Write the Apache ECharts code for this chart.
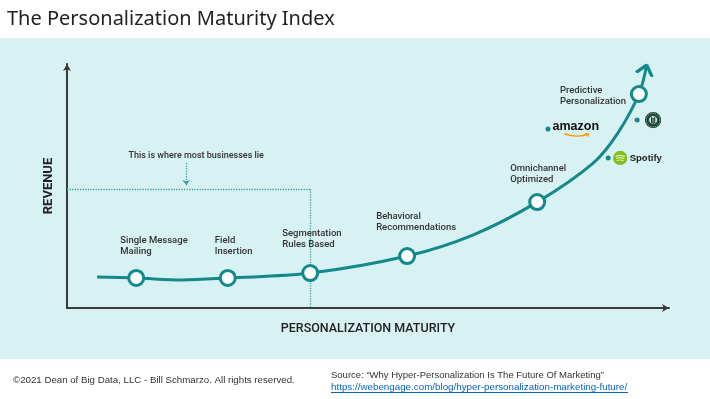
<!DOCTYPE html>
<html>
<head>
<meta charset="utf-8">
<title>The Personalization Maturity Index</title>
<script src="https://cdn.jsdelivr.net/npm/echarts@6/dist/echarts.min.js"></script>
<style>
  html, body { margin: 0; padding: 0; background: #fff; }
  #chart { width: 710px; height: 399px; }
</style>
</head>
<body>
<div id="chart"></div>
<script>
// maturity stages sitting on the curve (x = maturity, y = revenue, 0..100)
const stageNames = ['Single Message\nMailing', 'Field\nInsertion', 'Segmentation\nRules Based',
  'Behavioral\nRecommendations', 'Omnichannel\nOptimized', 'Predictive\nPersonalization'];
const stageX = [11.5, 26.7, 40.4, 56.5, 78.1, 95.0];
const stageY = [12.3, 12.3, 14.3, 21.3, 43.4, 87.7];

// the growth curve itself
const curveX = [5.0, 11.5, 19.1, 26.7, 40.4, 56.5, 67.4, 78.1, 87.4, 91.5, 95.0, 96.3];
const curveY = [12.7, 12.3, 11.5, 12.3, 14.3, 21.3, 29.9, 43.4, 59.4, 71.7, 87.7, 99.6];

// companies already up near the top
const brandNames = ['amazon', 'starbucks', 'spotify'];
const brandX = [79.9, 94.7, 89.9];
const brandY = [73.4, 77.0, 61.5];

// "where most businesses lie" corner and the little arrow above it
const mostBusinesses = [40.4, 48.8];
const noteArrowX = [19.8];
const noteArrowY = [59.4, 50.4];

// label placement for the stage names (px, from the circle's box corner)
const stageLabelPos = [[-7, -34], [-4, -34], [-19, -36], [-22, -36], [-18, -30], [-70, 0]];

const teal = '#14898b';
const dotTeal = '#3aa3a5';

function svgUri(svg) {
  return 'data:image/svg+xml;charset=utf-8,' + encodeURIComponent(svg);
}
const smile = svgUri("<svg xmlns='http://www.w3.org/2000/svg' width='30' height='6' viewBox='0 0 30 6'>" +
  "<path d='M1 1 Q14 6.5 27 1.6' stroke='#f90' stroke-width='1.7' fill='none'/>" +
  "<path d='M24 0.6 L28 1.3 L27.2 4.6' stroke='#f90' stroke-width='1.3' fill='none'/></svg>");
const starbucks = svgUri("<svg xmlns='http://www.w3.org/2000/svg' width='18' height='18' viewBox='0 0 18 18'>" +
  "<circle cx='9' cy='9' r='8.6' fill='#1e3932'/>" +
  "<circle cx='9' cy='9' r='7.2' fill='none' stroke='#cfe8dd' stroke-width='0.9' stroke-dasharray='1 1'/>" +
  "<circle cx='9' cy='9' r='5.4' fill='#00704a'/><circle cx='9' cy='9' r='4' fill='#fff'/>" +
  "<path d='M6.6 5.6h1.3v7h-1.3zM10.1 5.6h1.3v7h-1.3zM8.3 6.5h1.4v6.5h-1.4z' fill='#1e3932'/></svg>");
const spotify = svgUri("<svg xmlns='http://www.w3.org/2000/svg' width='16' height='16' viewBox='0 0 16 16'>" +
  "<circle cx='8' cy='8' r='7.6' fill='#84bd1c'/>" +
  "<path d='M3.6 6 Q8 4.3 12.4 6.3 M4.2 8.4 Q8 7 11.8 8.7 M4.8 10.7 Q8 9.6 11.1 10.9' stroke='#d8f0a6' " +
  "stroke-width='1.3' fill='none' stroke-linecap='round'/></svg>");

const brandLabels = {
  amazon: {
    formatter: '{a|amazon}\n{g|}{s|}',
    distance: 2,
    rich: {
      a: { fontFamily: 'Liberation Sans', fontWeight: 'bold', fontSize: 12.5, color: '#111', lineHeight: 13 },
      g: { width: 11, height: 5 },
      s: { width: 27, height: 5, backgroundColor: { image: smile } }
    }
  },
  starbucks: {
    formatter: '{b|}',
    distance: 5,
    rich: { b: { width: 17, height: 17, backgroundColor: { image: starbucks } } }
  },
  spotify: {
    formatter: '{b|}{t|Spotify}',
    distance: 2,
    rich: {
      b: { width: 15, height: 15, backgroundColor: { image: spotify } },
      t: { fontFamily: 'Liberation Sans', fontWeight: 'bold', fontSize: 9.5, color: '#222', padding: [0, 0, 0, 2] }
    }
  }
};

const chart = echarts.init(document.getElementById('chart'));

const option = {
  backgroundColor: '#fff',
  animation: false,
  grid: { left: 67, right: 41, top: 64, bottom: 91 },
  xAxis: {
    type: 'value', min: 0, max: 100,
    axisLine: { onZero: false, symbol: ['none', 'arrow'], symbolSize: [6, 7], lineStyle: { color: '#3a3a3a', width: 2 } },
    axisTick: { show: false }, axisLabel: { show: false }, splitLine: { show: false },
    name: 'PERSONALIZATION MATURITY', nameLocation: 'middle', nameGap: 14,
    nameTextStyle: { fontFamily: 'Roboto', fontSize: 12.5, fontWeight: 500, color: '#222' }
  },
  yAxis: {
    type: 'value', min: 0, max: 100,
    axisLine: { onZero: false, symbol: ['none', 'arrow'], symbolSize: [6, 7], lineStyle: { color: '#3a3a3a', width: 2 } },
    axisTick: { show: false }, axisLabel: { show: false }, splitLine: { show: false },
    name: 'REVENUE', nameLocation: 'middle', nameGap: 12, nameRotate: 90,
    nameTextStyle: { fontFamily: 'Roboto', fontSize: 13, fontWeight: 'bold', color: '#222' }
  },
  graphic: [
    { type: 'rect', z: -100, shape: { x: 0, y: 38, width: 710, height: 321 }, style: { fill: '#d8f1f3' } },
    { type: 'text', x: 7, y: 19,
      style: { text: 'The Personalization Maturity Index', font: '20px "Noto Sans"', fill: '#222', verticalAlign: 'middle' } },
    { type: 'text', x: 13, y: 380,
      style: { text: '©2021 Dean of Big Data, LLC - Bill Schmarzo. All rights reserved.', font: '9.7px "Liberation Sans"', fill: '#333', verticalAlign: 'middle' } },
    { type: 'text', x: 331, y: 375,
      style: { text: 'Source: “Why Hyper-Personalization Is The Future Of Marketing”', font: '9.5px "Liberation Sans"', fill: '#333', verticalAlign: 'middle' } },
    { type: 'text', x: 331, y: 387,
      style: { text: 'https://webengage.com/blog/hyper-personalization-marketing-future/', font: '9.8px "Liberation Sans"', fill: '#0563c1', verticalAlign: 'middle' } },
    { type: 'line', shape: { x1: 331, y1: 392.5, x2: 628, y2: 392.5 }, style: { stroke: '#0563c1', lineWidth: 1 } }
  ],
  series: [
    {
      name: 'most businesses', type: 'line', data: [], z: 1,
      markLine: {
        silent: true, symbol: 'none', label: { show: false }, z: 1,
        lineStyle: { type: 'dotted', color: dotTeal, width: 1.3 },
        data: [
          [{ coord: [0, mostBusinesses[1]] }, { coord: [mostBusinesses[0], mostBusinesses[1]] }],
          [{ coord: [mostBusinesses[0], mostBusinesses[1]] }, { coord: [mostBusinesses[0], 0] }]
        ]
      }
    },
    {
      name: 'note', type: 'line', data: [], z: 1,
      markLine: {
        silent: true, symbol: ['none', 'arrow'], symbolSize: [6, 5], z: 1,
        lineStyle: { type: 'dotted', color: dotTeal, width: 1.3 },
        label: {
          show: true, position: 'start', distance: 3, formatter: 'This is where most businesses lie',
          fontFamily: 'Roboto', fontSize: 9, fontWeight: 500, color: '#333', padding: [0, 0, 0, 20]
        },
        data: [[{ coord: [noteArrowX[0], noteArrowY[0]] }, { coord: [noteArrowX[0], noteArrowY[1]] }]]
      }
    },
    {
      name: 'curve', type: 'line', smooth: 0.35, showSymbol: false, z: 3,
      lineStyle: { color: teal, width: 3 },
      data: curveX.map((x, i) => [x, curveY[i]])
    },
    {
      name: 'arrowhead', type: 'scatter', z: 3,
      symbol: 'path://M0,10 L8,0 L16,10', symbolSize: [15, 9], symbolRotate: -15, symbolOffset: [-1.2, 4.4],
      itemStyle: { color: 'transparent', opacity: 1, borderColor: teal, borderWidth: 3, borderCap: 'round', borderJoin: 'round' },
      data: [[curveX[curveX.length - 1], curveY[curveY.length - 1]]]
    },
    {
      name: 'stages', type: 'scatter', z: 6, symbolSize: 15,
      itemStyle: { color: '#fff', opacity: 1, borderColor: teal, borderWidth: 3 },
      label: { show: true, formatter: p => p.name, fontFamily: 'Roboto', fontSize: 9.5, fontWeight: 500, lineHeight: 11, color: '#333' },
      data: stageNames.map((n, i) => ({ name: n, value: [stageX[i], stageY[i]], label: { position: stageLabelPos[i] } }))
    },
    {
      name: 'brands', type: 'scatter', z: 6, symbolSize: 5,
      itemStyle: { color: teal, opacity: 1 },
      label: { show: true, position: 'right' },
      data: brandNames.map((n, i) => ({ name: n, value: [brandX[i], brandY[i]], label: brandLabels[n] }))
    }
  ]
};

chart.setOption(option);
</script>
</body>
</html>
